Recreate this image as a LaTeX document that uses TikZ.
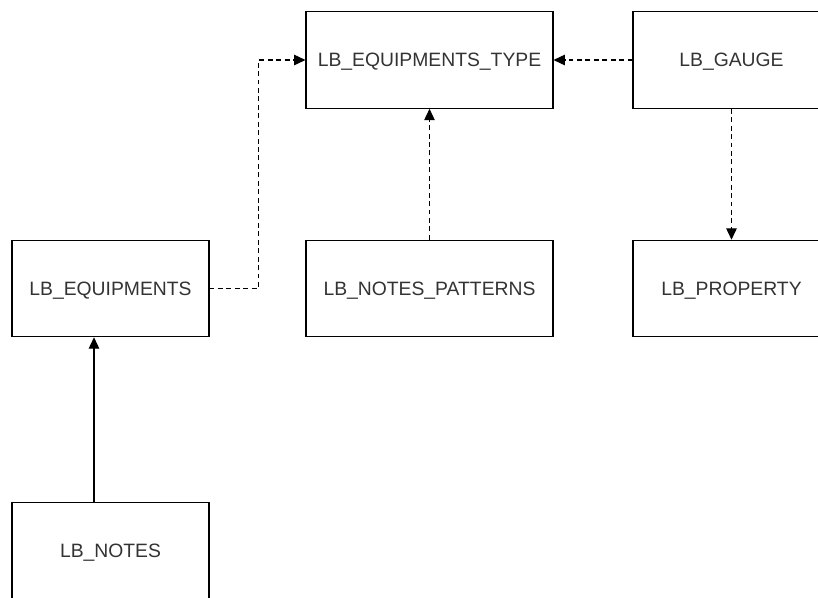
\documentclass[tikz,border=0pt]{standalone}
\usepackage{fontspec}
\setmainfont{Liberation Sans}
\usetikzlibrary{arrows.meta}

\begin{document}
\begin{tikzpicture}[
      table/.style={rectangle, draw, line width=0.6pt, minimum height=1.93cm, text height=7.9pt, text depth=0pt, text=black!80, font=\fontsize{11}{13}\selectfont},
      wide/.style={table, minimum width=4.94cm},
      narrow/.style={table, minimum width=3.94cm},
      link/.style={-{Triangle[length=6.5pt,width=6pt]}, line width=0.6pt},
      dep/.style={link, dash pattern=on 2.8pt off 2pt}]

      \clip (0,0) rectangle (16.36,-11.94);

      \node[wide] (type) at (8.59,-1.2) {LB\_EQUIPMENTS\_TYPE};
      \node[narrow] (gauge) at (14.63,-1.2) {LB\_GAUGE};
      \node[narrow] (equip) at (2.21,-5.77) {LB\_EQUIPMENTS};
      \node[wide] (patterns) at (8.59,-5.77) {LB\_NOTES\_PATTERNS};
      \node[narrow] (property) at (14.63,-5.77) {LB\_PROPERTY};
      \node[narrow] (notes) at (2.21,-11.01) {LB\_NOTES};

      % Links
      \draw[dep] (equip.east) -- ++(0.98,0) |- (type.west);
      \draw[dep] (patterns.north) -- (type.south);
      \draw[dep] (gauge.west) -- (type.east);
      \draw[dep] (gauge.south) -- (property.north);
      \draw[link] ([xshift=-0.33cm]notes.north) -- ([xshift=-0.33cm]equip.south);
    \end{tikzpicture}
\end{document}
